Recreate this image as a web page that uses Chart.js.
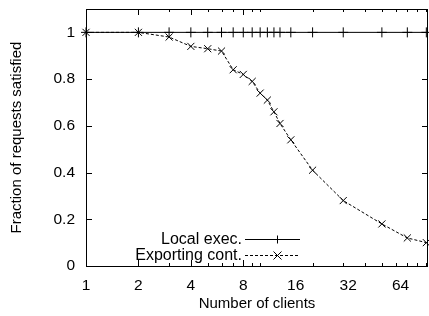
<!DOCTYPE html>
<html lang="en">
<head>
  <meta charset="UTF-8" />
  <title>Fraction of requests satisfied</title>
  <script src="https://cdn.jsdelivr.net/npm/chart.js"></script>
  <style>
    html, body { margin: 0; padding: 0; background: #fff; }
    #wrap { width: 429px; height: 316px; }
  </style>
</head>
<body>
  <div id="wrap"><canvas id="chart" width="429" height="316"></canvas></div>
  <script>
    // data
    const clients = [1, 2, 3, 4, 5, 6, 7, 8, 9, 10, 11, 12, 13, 15, 20, 30, 50, 70, 90];
    const localExec = [1, 1, 1, 1, 1, 1, 1, 1, 1, 1, 1, 1, 1, 1, 1, 1, 1, 1, 1];
    const exportingCont = [1, 1, 0.98, 0.94, 0.93, 0.92, 0.84, 0.82, 0.79, 0.74, 0.71, 0.66, 0.61, 0.54, 0.41, 0.28, 0.18, 0.12, 0.10];
    const xTicks = [1, 2, 4, 8, 16, 32, 64];
    const yTicks = [0, 0.2, 0.4, 0.6, 0.8, 1];

    const FONT = 'Liberation Sans, Arial, sans-serif';
    const TICK_SIZE = 15.5;
    const TITLE_SIZE = 15;
    const pts = arr => clients.map((c, i) => ({ x: c, y: arr[i] }));

    // minor log ticks: 2..9 of every decade, like gnuplot
    const minorX = [];
    for (let d = 1; d <= 100; d *= 10)
      for (let m = 1; m < 10; m++) minorX.push(m * d);

    // inward tick marks on all four sides, plus gnuplot style legend
    const frameTicks = {
      id: 'frameTicks',
      afterDraw(chart) {
        const { ctx, chartArea: a, scales: { x, y } } = chart;
        ctx.save();
        ctx.strokeStyle = '#000';
        ctx.lineWidth = 1;
        ctx.beginPath();
        for (const v of minorX) {
          if (v < x.min || v > x.max) continue;
          const px = Math.round(x.getPixelForValue(v)) + 0.5;
          const len = xTicks.includes(v) ? 6 : 3;
          ctx.moveTo(px, a.bottom); ctx.lineTo(px, a.bottom - len);
          ctx.moveTo(px, a.top); ctx.lineTo(px, a.top + len);
        }
        for (const v of yTicks) {
          const py = Math.round(y.getPixelForValue(v)) + 0.5;
          ctx.moveTo(a.left, py); ctx.lineTo(a.left + 6, py);
          ctx.moveTo(a.right, py); ctx.lineTo(a.right - 6, py);
        }
        ctx.stroke();
        ctx.strokeRect(a.left + 0.5, a.top + 0.5, a.right - a.left - 1, a.bottom - a.top);

        // legend
        ctx.font = '16px ' + FONT;
        ctx.fillStyle = '#000';
        ctx.textAlign = 'right';
        ctx.textBaseline = 'middle';
        const rows = [
          { text: 'Local exec.', dash: [], style: 'plus', yy: 239 },
          { text: 'Exporting cont.', dash: [3, 2], style: 'x', yy: 255 }
        ];
        for (const r of rows) {
          ctx.fillText(r.text, 242, r.yy + 1);
          ctx.setLineDash(r.dash);
          ctx.beginPath();
          ctx.moveTo(245, r.yy + 0.5); ctx.lineTo(300, r.yy + 0.5);
          ctx.stroke();
          ctx.setLineDash([]);
          ctx.beginPath();
          const cx = 277.5, cy = r.yy + 0.5, s = 4;
          if (r.style === 'plus') {
            ctx.moveTo(cx - s, cy); ctx.lineTo(cx + s, cy);
            ctx.moveTo(cx, cy - s); ctx.lineTo(cx, cy + s);
          } else {
            ctx.moveTo(cx - s, cy - s); ctx.lineTo(cx + s, cy + s);
            ctx.moveTo(cx - s, cy + s); ctx.lineTo(cx + s, cy - s);
          }
          ctx.stroke();
        }
        ctx.restore();
      }
    };

    new Chart(document.getElementById('chart'), {
      type: 'line',
      data: {
        datasets: [
          {
            label: 'Local exec.',
            data: pts(localExec),
            borderColor: '#000',
            borderWidth: 1,
            pointStyle: 'cross',
            pointRadius: 5,
            pointBorderColor: '#000',
            pointBorderWidth: 1,
            fill: false,
            clip: 6
          },
          {
            label: 'Exporting cont.',
            data: pts(exportingCont),
            borderColor: '#000',
            borderWidth: 1,
            borderDash: [3, 2],
            pointStyle: 'crossRot',
            pointRadius: 5,
            pointBorderColor: '#000',
            pointBorderWidth: 1,
            fill: false,
            clip: 6
          }
        ]
      },
      options: {
        responsive: false,
        animation: false,
        layout: { autoPadding: false, padding: { top: 9, right: 1, left: 0, bottom: 0 } },
        plugins: { legend: { display: false }, tooltip: { enabled: false } },
        scales: {
          x: {
            type: 'logarithmic',
            min: 1,
            max: 92,
            afterBuildTicks: s => { s.ticks = xTicks.map(v => ({ value: v })); },
            afterFit: s => { s.height = 50; s.paddingLeft = 0; s.paddingRight = 0; },
            grid: { display: false, drawTicks: false },
            border: { display: false },
            ticks: {
              color: '#000',
              font: { family: FONT, size: TICK_SIZE },
              padding: 10,
              maxRotation: 0,
              autoSkip: false,
              callback: v => String(v)
            },
            title: {
              display: true,
              text: 'Number of clients',
              color: '#000',
              font: { family: FONT, size: TITLE_SIZE },
              padding: { top: 0, bottom: 3 }
            }
          },
          y: {
            min: 0,
            max: 1.1,
            afterBuildTicks: s => { s.ticks = yTicks.map(v => ({ value: v })); },
            afterFit: s => { s.width = 86; s.paddingTop = 0; s.paddingBottom = 0; },
            grid: { display: false, drawTicks: false },
            border: { display: false },
            ticks: {
              color: '#000',
              font: { family: FONT, size: TICK_SIZE },
              padding: 11,
              callback: v => String(Math.round(v * 10) / 10)
            },
            title: {
              display: true,
              text: 'Fraction of requests satisfied',
              color: '#000',
              font: { family: FONT, size: TITLE_SIZE },
              padding: { top: 8, bottom: 0 }
            }
          }
        }
      },
      plugins: [frameTicks]
    });
  </script>
</body>
</html>
